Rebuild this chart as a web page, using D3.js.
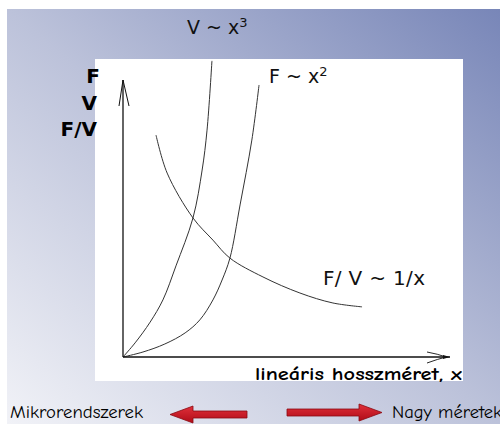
<!DOCTYPE html>
<html>
<head>
<meta charset="utf-8">
<script src="https://cdn.jsdelivr.net/npm/d3@7"></script>
<style>
  body { margin: 0; background: #fff; }
  svg { display: block; }
</style>
</head>
<body>
<script>
var width = 500, height = 424;

// curves (x: length, y: F, V, F/V in arbitrary units)
var cubeX  = [0, 0.37, 0.83, 1.22, 1.62, 2.14, 2.42, 2.57, 2.72];
var cubeY  = [0, 0.51, 1.26, 2.06, 3.29, 5.02, 6.75, 8.19, 10.69];
var squareX = [0, 0.61, 1.28, 1.90, 2.35, 2.75, 3.03, 3.27, 3.58, 3.94, 4.16];
var squareY = [0, 0.18, 0.47, 0.87, 1.34, 2.06, 2.78, 3.57, 5.49, 7.83, 9.82];
var invX = [1.01, 1.35, 2.14, 2.75, 3.27, 4.28, 5.41, 6.42, 7.31];
var invY = [8.01, 6.64, 5.02, 4.22, 3.57, 2.89, 2.31, 1.95, 1.81];

var yLabels = ["F", "V", "F/V"];

var svg = d3.select("body").append("svg")
	.attr("width", width)
	.attr("height", height);

var defs = svg.append("defs");
var grad = defs.append("linearGradient")
	.attr("id", "bg")
	.attr("x1", "0%").attr("y1", "100%")
	.attr("x2", "100%").attr("y2", "0%");
grad.append("stop").attr("offset", "0%").attr("stop-color", "#f1f2f7");
grad.append("stop").attr("offset", "50%").attr("stop-color", "#bcc2da");
grad.append("stop").attr("offset", "100%").attr("stop-color", "#7886b8");

var arrowGrad = defs.append("linearGradient")
	.attr("id", "red")
	.attr("x1", "0").attr("y1", "0").attr("x2", "0").attr("y2", "1");
arrowGrad.append("stop").attr("offset", "0%").attr("stop-color", "#e0303a");
arrowGrad.append("stop").attr("offset", "100%").attr("stop-color", "#b00c18");

// slide background
svg.append("rect")
	.attr("x", 7).attr("y", 9)
	.attr("width", width - 7).attr("height", height - 9)
	.attr("fill", "url(#bg)");

// white plot area
svg.append("rect")
	.attr("x", 95).attr("y", 59)
	.attr("width", 368).attr("height", 322)
	.attr("fill", "#fff");

var x = d3.scaleLinear().domain([0, 10]).range([123, 450]);
var y = d3.scaleLinear().domain([0, 10]).range([357, 80]);

var line = d3.line()
	.x(function(d) { return x(d[0]); })
	.y(function(d) { return y(d[1]); })
	.curve(d3.curveCatmullRom);

var series = [d3.zip(cubeX, cubeY), d3.zip(squareX, squareY), d3.zip(invX, invY)];

svg.selectAll(".curve")
	.data(series)
	.enter().append("path")
	.attr("class", "curve")
	.attr("d", line)
	.attr("fill", "none")
	.attr("stroke", "#333")
	.attr("stroke-width", 1);

// axes
var ax = svg.append("g").attr("stroke", "#111").attr("fill", "none");
ax.append("line")
	.attr("x1", x(0)).attr("y1", y(0))
	.attr("x2", x(0)).attr("y2", y(10))
	.attr("stroke-width", 1.3);
ax.append("path")
	.attr("d", "M" + (x(0) - 4) + "," + (y(10) + 26) + "L" + x(0) + "," + y(10) + "L" + (x(0) + 6) + "," + (y(10) + 26))
	.attr("stroke-width", 1);
ax.append("line")
	.attr("x1", x(0)).attr("y1", y(0))
	.attr("x2", x(10)).attr("y2", y(0))
	.attr("stroke-width", 1.6);
ax.append("path")
	.attr("d", "M" + (x(10) - 23) + "," + (y(0) - 5) + "Q" + (x(10) - 12) + "," + (y(0) - 3) + " " + (x(10) - 4) + "," + y(0) +
		"M" + (x(10) - 23) + "," + (y(0) + 6) + "Q" + (x(10) - 12) + "," + (y(0) + 2) + " " + (x(10) - 4) + "," + y(0))
	.attr("stroke-width", 0.9);
svg.append("path")
	.attr("d", "M" + x(10) + "," + y(0) + "L" + (x(10) - 7) + "," + (y(0) - 2) + "L" + (x(10) - 7) + "," + (y(0) + 2) + "Z")
	.attr("fill", "#111");

// y labels
svg.selectAll(".ylab")
	.data(yLabels)
	.enter().append("text")
	.attr("class", "ylab")
	.attr("x", function(d, i) { return i == 0 ? 100 : 97; })
	.attr("y", function(d, i) { return 83 + i * 26.5; })
	.attr("text-anchor", "end")
	.style("font-family", "'DejaVu Sans', sans-serif")
	.style("font-weight", "bold")
	.style("font-size", "20px")
	.text(function(d) { return d; });

// curve labels
var lab = svg.append("g")
	.style("font-family", "'DejaVu Sans', sans-serif")
	.style("font-size", "19px")
	.attr("fill", "#111");

function powLabel(px, py, base, sup) {
	var t = lab.append("text").attr("x", px).attr("y", py).text(base);
	t.append("tspan").attr("dy", -7).style("font-size", "13px").text(sup);
}
powLabel(187, 34, "V ~ x", "3");
powLabel(269, 83, "F ~ x", "2");
lab.append("text").attr("x", 323).attr("y", 285)
	.style("font-size", "20px")
	.attr("textLength", 102)
	.text("F/ V ~ 1/x");

// comic style texts
var comic = "'Comic Sans MS', 'Comic Neue', 'DejaVu Sans', sans-serif";
svg.append("text")
	.attr("x", 255).attr("y", 380)
	.attr("textLength", 207).attr("lengthAdjust", "spacingAndGlyphs")
	.style("font-family", comic)
	.style("font-weight", "bold")
	.style("font-size", "19px")
	.text("lineáris hosszméret, x");
svg.append("text")
	.attr("x", 10).attr("y", 418)
	.attr("textLength", 133).attr("lengthAdjust", "spacingAndGlyphs")
	.style("font-family", comic)
	.style("font-size", "18px")
	.text("Mikrorendszerek");
svg.append("text")
	.attr("x", 392).attr("y", 418)
	.attr("textLength", 110).attr("lengthAdjust", "spacingAndGlyphs")
	.style("font-family", comic)
	.style("font-size", "18px")
	.text("Nagy méretek");

// red arrows
function bigArrow(x0, x1, cy) {
	var dir = x1 > x0 ? 1 : -1;
	var hx = x1 - dir * 23;
	var p = "M" + x0 + "," + (cy - 3.5) + "L" + hx + "," + (cy - 3.5) + "L" + hx + "," + (cy - 8.5) +
		"L" + x1 + "," + cy + "L" + hx + "," + (cy + 8.5) + "L" + hx + "," + (cy + 3.5) +
		"L" + x0 + "," + (cy + 3.5) + "Z";
	svg.append("path")
		.attr("d", p)
		.attr("fill", "url(#red)")
		.attr("stroke", "#8a0a12")
		.attr("stroke-width", 0.8);
}
bigArrow(247, 170, 414.5);
bigArrow(287, 382, 412.5);
</script>
</body>
</html>
